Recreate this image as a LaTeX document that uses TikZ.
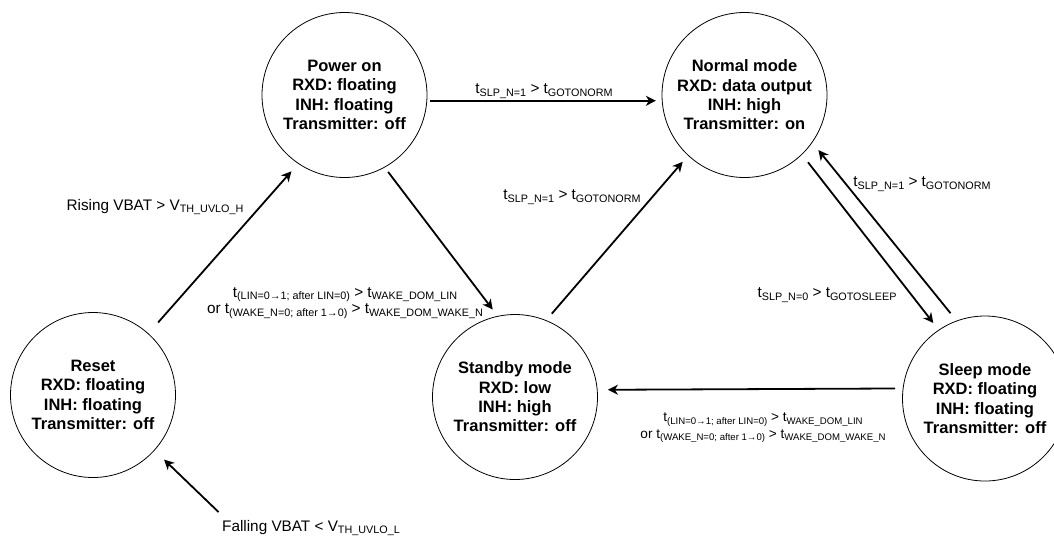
\documentclass[tikz,border=0pt]{standalone}
\usepackage{fontspec}
\setmainfont{Liberation Sans}
\usetikzlibrary{arrows.meta}
\newcommand\sbs[1]{\raisebox{-2.7pt}{\fontsize{10.8}{10.8}\selectfont #1}}
\newcommand\sbsm[1]{\raisebox{-2.4pt}{\fontsize{9.6}{9.6}\selectfont #1}}
\begin{document}
\begin{tikzpicture}[x=1pt,y=-1pt,
 state/.style={circle,draw,line width=0.8pt,minimum size=165pt,inner sep=0pt,outer sep=0pt,align=center,font=\fontsize{16.5}{19.3}\selectfont\bfseries},
 arr/.style={line width=1.8pt,-{Stealth[length=10pt,width=10pt,inset=3pt]}},
 lbl/.style={align=center,inner sep=0pt,font=\fontsize{15.3}{16.5}\selectfont},
 lblsm/.style={align=center,inner sep=0pt,font=\fontsize{13.6}{16.5}\selectfont}]
\useasboundingbox (0,0) rectangle (1054,539);
\clip (0,0) rectangle (1054,539);
\node[state] (power) at (344.5,95) {Power on\\RXD: floating\\INH: floating\\Transmitter: off};
\node[state] (normal) at (744.5,95) {Normal mode\\RXD: data output\\INH: high\\Transmitter: on};
\node[state] (reset) at (93,395) {Reset\\RXD: floating\\INH: floating\\Transmitter: off};
\node[state] (standby) at (515,397) {Standby mode\\RXD: low\\INH: high\\Transmitter: off};
\node[state] (sleep) at (985,398.5) {Sleep mode\\RXD: floating\\INH: floating\\Transmitter: off};
\coordinate (fstart) at (218.5,512);
\draw[arr, shorten <=15pt, shorten >=10.5pt] (reset.48) -- (power.236);
\draw[arr, shorten <=6pt, shorten >=8.5pt] (power.-61.5) -- (standby.102);
\draw[arr, shorten <=9pt, shorten >=8.5pt] (standby.68) -- (normal.227);
\draw[arr, shorten <=3.3pt, shorten >=6.3pt] (power.-4.7) -- (normal.184.7);
\draw[arr, shorten <=10pt, shorten >=9pt] (normal.-46.5) -- (sleep.124.6);
\draw[arr, shorten <=10pt, shorten >=10pt] (sleep.110.3) -- (normal.-35);
\draw[arr, shorten <=8pt, shorten >=10.7pt] (sleep.173) -- (standby.5.8);
\draw[arr, shorten >=13.5pt] (fstart) -- (reset.-42.6);
\node[lbl] (l1) at (155,207) {Rising VBAT > V\sbs{TH\_UVLO\_H}};
\node[lbl] (l2) at (544,91) {t\sbs{SLP\_N=1} > t\sbs{GOTONORM}};
\node[lbl] (l3) at (572,197) {t\sbs{SLP\_N=1} > t\sbs{GOTONORM}};
\node[lbl] (l4) at (922,184) {t\sbs{SLP\_N=1} > t\sbs{GOTONORM}};
\node[lbl] (l5) at (827,295) {t\sbs{SLP\_N=0} > t\sbs{GOTOSLEEP}};
\node[lbl] (l6) at (345,303) {t\sbs{(LIN=0→1; after LIN=0)} > t\sbs{WAKE\_DOM\_LIN}\\or t\sbs{(WAKE\_N=0; after 1→0)} > t\sbs{WAKE\_DOM\_WAKE\_N}};
\node[lblsm] (l7) at (763,428) {t\sbsm{(LIN=0→1; after LIN=0)} > t\sbsm{WAKE\_DOM\_LIN}\\or t\sbsm{(WAKE\_N=0; after 1→0)} > t\sbsm{WAKE\_DOM\_WAKE\_N}};
\node[lbl, anchor=west] (l8) at (222,528) {Falling VBAT < V\sbs{TH\_UVLO\_L}};
\end{tikzpicture}
\end{document}
